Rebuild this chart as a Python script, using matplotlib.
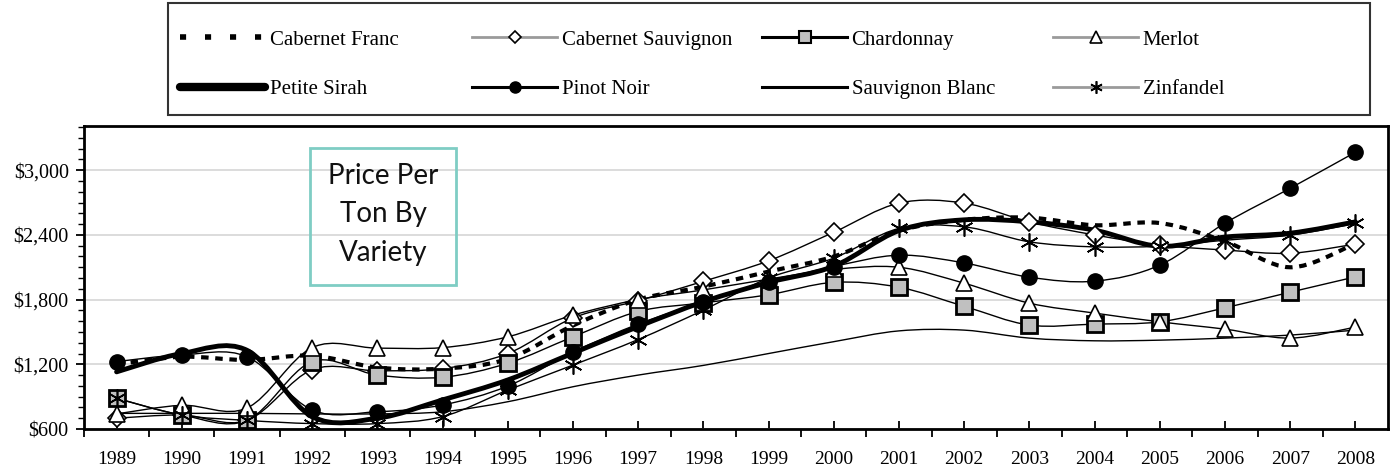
import matplotlib
matplotlib.use('Agg')
import matplotlib.pyplot as plt
from matplotlib.path import Path
from matplotlib.patches import PathPatch, Rectangle
from matplotlib.lines import Line2D
from matplotlib.ticker import MultipleLocator, FuncFormatter

years = list(range(1989, 2009))

cabernet_franc = [1200, 1270, 1240, 1280, 1170, 1160, 1250, 1560, 1800, 1920,
                  2060, 2200, 2440, 2540, 2560, 2490, 2510, 2340, 2100, 2320]
cabernet_sauvignon = [700, 730, 680, 1150, 1140, 1160, 1300, 1630, 1790, 1970,
                      2160, 2425, 2695, 2695, 2520, 2400, 2305, 2260, 2230, 2315]
chardonnay = [885, 730, 680, 1225, 1100, 1080, 1210, 1455, 1690, 1770,
              1845, 1960, 1915, 1738, 1564, 1573, 1594, 1724, 1869, 2011]
merlot = [740, 820, 795, 1355, 1350, 1355, 1455, 1656, 1800, 1890,
          1990, 2080, 2100, 1952, 1767, 1675, 1594, 1526, 1443, 1545]
petite_sirah = [1130, 1300, 1330, 715, 700, 870, 1055, 1304, 1550, 1780,
                1960, 2110, 2440, 2540, 2521, 2444, 2295, 2380, 2416, 2521]
pinot_noir = [1225, 1287, 1271, 776, 760, 823, 998, 1313, 1573, 1777,
              1960, 2107, 2212, 2140, 2008, 1971, 2120, 2509, 2833, 3167]
sauvignon_blanc = [745, 745, 745, 740, 740, 760, 853, 992, 1100, 1190,
                   1300, 1410, 1510, 1517, 1443, 1418, 1424, 1443, 1471, 1517]
zinfandel = [885, 730, 680, 650, 650, 715, 961, 1193, 1430, 1703,
             2000, 2185, 2460, 2475, 2336, 2289, 2296, 2351, 2398, 2506]


def smooth_path(xs, ys):
    # excel-style smoothed line drawn as cubic bezier segments
    pts = list(zip(xs, ys))
    n = len(pts)
    verts = [pts[0]]
    codes = [Path.MOVETO]
    for i in range(n - 1):
        p0 = pts[i - 1] if i > 0 else pts[i]
        p1 = pts[i]
        p2 = pts[i + 1]
        p3 = pts[i + 2] if i + 2 < n else pts[i + 1]
        c1 = (p1[0] + (p2[0] - p0[0]) / 6, p1[1] + (p2[1] - p0[1]) / 6)
        c2 = (p2[0] - (p3[0] - p1[0]) / 6, p2[1] - (p3[1] - p1[1]) / 6)
        verts += [c1, c2, p2]
        codes += [Path.CURVE4] * 3
    return Path(verts, codes)


fig = plt.figure(figsize=(13.95, 4.72), dpi=100)
ax = fig.add_axes([0.0602, 0.0911, 0.9348, 0.6419])

series = [
    (cabernet_franc, dict(lw=3.0, ls=(0, (1.8, 1.6)), capstyle='butt'), None),
    (cabernet_sauvignon, dict(lw=1.0), dict(marker='D', ms=9, mfc='white', mec='black', mew=1.2)),
    (chardonnay, dict(lw=1.0), dict(marker='s', ms=11, mfc='#c0c0c0', mec='black', mew=2)),
    (merlot, dict(lw=1.0), dict(marker='^', ms=11, mfc='white', mec='black', mew=1.2)),
    (petite_sirah, dict(lw=3.5), None),
    (pinot_noir, dict(lw=1.0), dict(marker='o', ms=11, mfc='black', mec='black')),
    (sauvignon_blanc, dict(lw=1.0), None),
    (zinfandel, dict(lw=1.0), dict(marker=(6, 2, 0), ms=13, mfc='black', mec='black', mew=1.2)),
]

for vals, lstyle, mstyle in series:
    patch = PathPatch(smooth_path(years, vals), fill=False, edgecolor='black',
                      linewidth=lstyle['lw'], linestyle=lstyle.get('ls', '-'),
                      capstyle=lstyle.get('capstyle', 'round'), zorder=3)
    ax.add_patch(patch)
for vals, lstyle, mstyle in series:
    if mstyle:
        ax.plot(years, vals, ls='none', zorder=4, **mstyle)

ax.set_xlim(1988.5, 2008.5)
ax.set_ylim(600, 3410)
ax.set_yticks([600, 1200, 1800, 2400, 3000])
ax.yaxis.set_minor_locator(MultipleLocator(100))
ax.yaxis.set_major_formatter(FuncFormatter(lambda v, p: '${:,.0f}'.format(v)))
ax.set_xticks(years)
ax.set_xticks([y + 0.5 for y in years[:-1]] + [1988.5], minor=True)
ax.grid(axis='y', which='major', color='#d9d9d9', lw=1.3, zorder=0)
ax.set_axisbelow(True)

for s in ax.spines.values():
    s.set_linewidth(2)
ax.tick_params(axis='y', which='major', direction='out', length=6, width=1.3, pad=5,
               labelsize=14.5)
ax.tick_params(axis='y', which='minor', direction='out', length=4, width=1)
ax.tick_params(axis='x', which='major', direction='in', length=6, width=1.3, pad=16,
               labelsize=14)
ax.tick_params(axis='x', which='minor', direction='out', length=6, width=1.3)
for lab in ax.get_xticklabels() + ax.get_yticklabels():
    lab.set_fontfamily('Liberation Serif')

# title box inside the plot
ax.add_patch(Rectangle((0.1733, 0.475), 0.112, 0.452, transform=ax.transAxes,
                       fill=False, edgecolor='#7fcdc4', lw=2, zorder=5))
ax.text(0.2293, 0.708, 'Price Per\nTon By\nVariety', transform=ax.transAxes,
        ha='center', va='center', fontsize=20, family='Lato', linespacing=1.6,
        color='#111111', zorder=6)

# legend: four columns placed like the original, inside one frame
gray = '#9a9a9a'
handles = {
    'Cabernet Franc': Line2D([], [], color='black', lw=4, ls=(0, (1.1, 3.4))),
    'Cabernet Sauvignon': Line2D([], [], color=gray, lw=2, marker='D', ms=6,
                                mfc='white', mec='black', mew=1.2),
    'Chardonnay': Line2D([], [], color='black', lw=2.2, marker='s', ms=8,
                         mfc='#c0c0c0', mec='black', mew=1.5),
    'Merlot': Line2D([], [], color=gray, lw=2, marker='^', ms=8,
                     mfc='white', mec='black', mew=1.2),
    'Petite Sirah': Line2D([], [], color='black', lw=6, solid_capstyle='round'),
    'Pinot Noir': Line2D([], [], color='black', lw=2.2, marker='o', ms=8, mfc='black'),
    'Sauvignon Blanc': Line2D([], [], color='black', lw=2.2),
    'Zinfandel': Line2D([], [], color=gray, lw=2, marker=(6, 2, 0), ms=9,
                        mfc='black', mec='black', mew=1.2),
}
columns = [['Cabernet Franc', 'Petite Sirah'],
           ['Cabernet Sauvignon', 'Pinot Noir'],
           ['Chardonnay', 'Sauvignon Blanc'],
           ['Merlot', 'Zinfandel']]
col_x = [180, 472, 762, 1053]
W, H = 1395.0, 472.0
for names, x in zip(columns, col_x):
    leg = fig.legend([handles[k] for k in names], names, loc='upper left',
                     bbox_to_anchor=(x / W, 1 - 30 / H),
                     prop={'family': 'Liberation Serif', 'size': 15},
                     handlelength=4.1, handletextpad=0.2, labelspacing=1.45,
                     borderpad=0, borderaxespad=0, frameon=False)
fig.add_artist(Rectangle((168 / W, 1 - 115 / H), (1370 - 168) / W, 112 / H,
                         transform=fig.transFigure, fill=False,
                         edgecolor='#333333', lw=1.5))

fig.savefig('out.png', dpi=100)
